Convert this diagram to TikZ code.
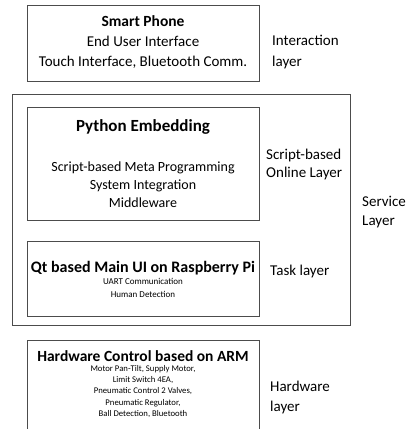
\documentclass[tikz,border=0pt]{standalone}
\usepackage{fontspec}
\setmainfont{Carlito}
\begin{document}
\begin{tikzpicture}[x=1pt,y=-1pt,
  box/.style={draw=black!70,line width=0.9pt,inner sep=0pt,minimum width=232pt},
  txt/.style={inner sep=0pt,align=center},
  lbl/.style={inner sep=0pt,align=left,anchor=west,font=\fontsize{15}{19}\selectfont},
]
\useasboundingbox (0,0) rectangle (408,429);
% Interaction layer
\node[box,minimum height=76pt] (phone) at (143,43) {};
\node[txt,font=\fontsize{15.5}{20}\bfseries] (phonetitle) at (143,21) {Smart Phone};
\node[txt,font=\fontsize{15}{20}\selectfont] (phonebody) at (143,52.5) {End User Interface\\Touch Interface, Bluetooth Comm.};
\node[lbl,font=\fontsize{15}{21}\selectfont] (interlbl) at (272,52.5) {Interaction\\layer};
% Service layer
\node[draw=black!70,line width=0.9pt,inner sep=0pt,minimum width=338pt,minimum height=231pt] (service) at (181,209.5) {};
\node[lbl] (servlbl) at (362,212.5) {Service\\Layer};
% Python
\node[box,minimum height=113pt] (python) at (143,163.5) {};
\node[txt,font=\fontsize{17}{20}\bfseries] (pytitle) at (143,127) {Python Embedding};
\node[txt,font=\fontsize{14}{18}\selectfont] (pybody) at (143,185) {Script-based Meta Programming\\System Integration\\Middleware};
\node[lbl,font=\fontsize{15}{18}\selectfont] (scriptlbl) at (266,164) {Script-based\\Online Layer};
% Qt
\node[box,minimum height=75pt] (qt) at (143,278.5) {};
\node[txt,font=\fontsize{16}{20}\bfseries] (qttitle) at (143,268) {Qt based Main UI on Raspberry Pi};
\node[txt,font=\fontsize{9}{13}\selectfont] (qtbody) at (143,288) {UART Communication\\Human Detection};
\node[lbl] (tasklbl) at (270,271) {Task layer};
% Hardware
\coordinate (hwbl) at (27,430);
\coordinate (hwtl) at (27,340);
\coordinate (hwtr) at (259,340);
\coordinate (hwbr) at (259,430);
\draw[draw=black!70,line width=0.9pt] (hwbl) -- (hwtl) -- (hwtr) -- (hwbr);
\node[txt,font=\fontsize{15.5}{20}\bfseries] (hwtitle) at (143,356) {Hardware Control based on ARM};
\node[txt,font=\fontsize{8.7}{11.2}\selectfont] (hwbody) at (143,391.5) {Motor Pan-Tilt, Supply Motor,\\Limit Switch 4EA,\\Pneumatic Control 2 Valves,\\Pneumatic Regulator,\\Ball Detection, Bluetooth};
\node[lbl,font=\fontsize{15}{20}\selectfont] (hwlbl) at (270,397) {Hardware\\layer};
\end{tikzpicture}
\end{document}
